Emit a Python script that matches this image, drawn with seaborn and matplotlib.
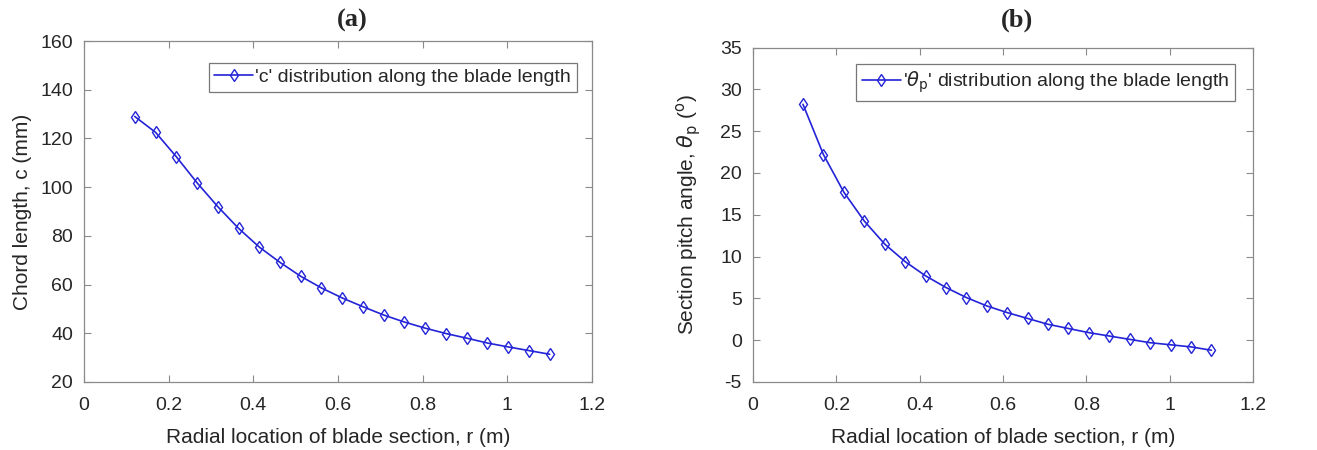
import numpy as np
import pandas as pd
import matplotlib
matplotlib.use("Agg")
import matplotlib.pyplot as plt
import seaborn as sns

# ---- data ----
r_m = [0.120, 0.169, 0.218, 0.267, 0.316, 0.365, 0.414, 0.463, 0.512, 0.561, 0.610,
       0.659, 0.708, 0.757, 0.806, 0.855, 0.904, 0.953, 1.002, 1.051, 1.100]
chord_mm = [129.0, 122.5, 112.5, 101.8, 92.0, 83.1, 75.4, 69.1, 63.4, 58.6, 54.5,
            50.9, 47.5, 44.6, 42.1, 39.9, 38.0, 36.0, 34.4, 32.9, 31.4]
pitch_deg = [28.2, 22.2, 17.7, 14.25, 11.5, 9.4, 7.7, 6.3, 5.1, 4.1, 3.3,
             2.6, 1.9, 1.4, 0.9, 0.5, 0.1, -0.3, -0.55, -0.8, -1.2]
x_ticks = [0, 0.2, 0.4, 0.6, 0.8, 1, 1.2]
x_ticklabels = ["0", "0.2", "0.4", "0.6", "0.8", "1", "1.2"]
c_ticks = [20, 40, 60, 80, 100, 120, 140, 160]
p_ticks = [-5, 0, 5, 10, 15, 20, 25, 30, 35]

sns.set_style("ticks")
plt.rcParams["font.family"] = ["Liberation Sans", "DejaVu Sans"]
plt.rcParams["mathtext.fontset"] = "dejavusans"
plt.rcParams["axes.unicode_minus"] = False

df = pd.DataFrame({"r": r_m, "c": chord_mm, "p": pitch_deg})

fig = plt.figure(figsize=(13.17, 4.5), dpi=100)
axA = fig.add_axes([84/1317, 1-382/450, (592-84)/1317, (382-41)/450])
axB = fig.add_axes([753/1317, 1-382/450, (1253-753)/1317, (382-47.5)/450])

line_col = "#2323d8"
edge = "#8a8a8a"
txt = "#262626"

def style(ax):
    for s in ax.spines.values():
        s.set_color(edge)
        s.set_linewidth(0.9)
    ax.tick_params(direction="in", top=True, right=True, length=5, width=0.8,
                   color=edge, labelsize=14, labelcolor=txt, pad=8)
    ax.tick_params(axis="x", pad=11)
    ax.set_xlim(0, 1.2)
    ax.set_xticks(x_ticks)
    ax.set_xticklabels(x_ticklabels)

kw = dict(color=line_col, marker="d", markersize=6, markerfacecolor="none",
          markeredgecolor=line_col, markeredgewidth=1.0, linewidth=1.2)

sns.lineplot(data=df, x="r", y="c", ax=axA,
             label="'c' distribution along the blade length", **kw)
style(axA)
axA.set_ylim(20, 160)
axA.set_yticks(c_ticks)
axA.set_xlabel("Radial location of blade section, r (m)", fontsize=15, color=txt, labelpad=10)
axA.set_ylabel("Chord length, c (mm)", fontsize=15, color=txt, labelpad=6)
legA = axA.legend(loc="upper right", fontsize=14, frameon=True, fancybox=False,
                  edgecolor="#555555", handlelength=2.0, handletextpad=0.1,
                  borderpad=0.3, borderaxespad=0, bbox_to_anchor=(0.970, 0.936))
legA.get_frame().set_linewidth(0.9)

sns.lineplot(data=df, x="r", y="p", ax=axB,
             label=r"'$\theta_{\rm p}$' distribution along the blade length", **kw)
style(axB)
axB.set_ylim(-5, 35)
axB.set_yticks(p_ticks)
axB.set_xlabel("Radial location of blade section, r (m)", fontsize=15, color=txt, labelpad=10)
axB.set_ylabel(r"Section pitch angle, $\theta_{\rm p}$ ($^{\rm o}$)", fontsize=15, color=txt, labelpad=12)
legB = axB.legend(loc="upper right", fontsize=14, frameon=True, fancybox=False,
                  edgecolor="#555555", handlelength=2.0, handletextpad=0.1,
                  borderpad=0.3, borderaxespad=0, bbox_to_anchor=(0.964, 0.951))
legB.get_frame().set_linewidth(0.9)

fig.text(352/1317, 1-20/450, "(a)", ha="center", va="center", fontsize=19,
         fontweight="bold", family=["Liberation Serif", "DejaVu Serif"])
fig.text(1017/1317, 1-20/450, "(b)", ha="center", va="center", fontsize=19,
         fontweight="bold", family=["Liberation Serif", "DejaVu Serif"])

fig.savefig("out.png", dpi=100)
